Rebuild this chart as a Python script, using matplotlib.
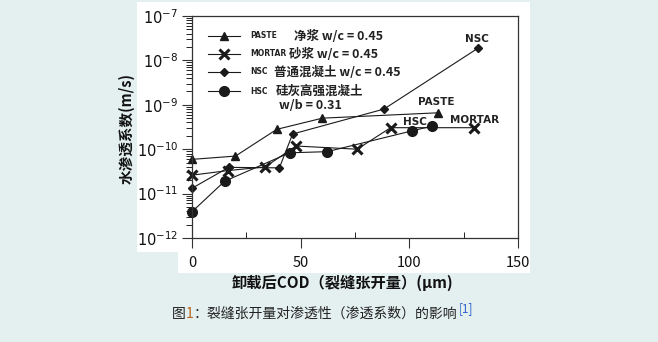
import matplotlib.pyplot as plt
import matplotlib.patches as mpatches
import numpy as np

plt.rcParams['font.family'] = ['Noto Sans CJK SC', 'DejaVu Sans']
plt.rcParams['mathtext.fontset'] = 'dejavusans'

# data (COD in um, permeability in m/s)
paste_x = [0, 20, 39, 60, 113]
paste_y = [5.9e-11, 7.0e-11, 2.8e-10, 5.0e-10, 6.6e-10]
mortar_x = [0, 16.5, 33.7, 47.8, 76, 91.4, 129.8]
mortar_y = [2.6e-11, 3.3e-11, 4.0e-11, 1.18e-10, 1.0e-10, 3.05e-10, 3.05e-10]
nsc_x = [0, 16.9, 40.2, 46.3, 88.3, 131.7]
nsc_y = [1.32e-11, 3.9e-11, 3.8e-11, 2.2e-10, 8.0e-10, 1.9e-8]
hsc_x = [0, 15, 44.9, 62.2, 101.4, 110.3]
hsc_y = [3.9e-12, 1.9e-11, 8.3e-11, 8.8e-11, 2.6e-10, 3.3e-10]

W, H = 658, 342
bg = '#e4f0ef'

fig = plt.figure(figsize=(W / 100, H / 100), dpi=100)
fig.patch.set_facecolor(bg)


def fx(px):
    return px / W


def fy(py):
    return 1 - py / H


# white scanned-image panel
poly = [(137, 2), (530, 2), (530, 273), (178, 273), (178, 252), (137, 252)]
fig.patches.append(mpatches.Polygon([(fx(a), fy(b)) for a, b in poly], closed=True,
                                    transform=fig.transFigure, facecolor='white',
                                    edgecolor='none', zorder=0))

ax = fig.add_axes([fx(192), fy(238), fx(518) - fx(192), fy(16) - fy(238)])
ax.set_zorder(2)
ax.set_facecolor('white')
ax.set_yscale('log')
ax.set_xlim(0, 150)
ax.set_ylim(1e-12, 1e-7)

lk = dict(color='#1a1a1a', lw=0.8, markersize=6, clip_on=False)
ax.plot(paste_x, paste_y, marker='^', **lk)
ax.plot(mortar_x, mortar_y, marker='x', markeredgewidth=2.2, **dict(lk, markersize=6.5))
ax.plot(nsc_x, nsc_y, marker='D', **dict(lk, markersize=4.5))
ax.plot(hsc_x, hsc_y, marker='o', **dict(lk, markersize=7))

for s in ax.spines.values():
    s.set_color('#333333')
    s.set_linewidth(0.9)

ax.set_xticks([0, 50, 100, 150])
ax.set_xticks([25, 75, 125], minor=True)
ax.tick_params(axis='x', which='major', direction='out', length=7, width=0.8,
               labelsize=10.5, pad=6, colors='#333333', labelcolor='#111111')
ax.tick_params(axis='x', which='minor', direction='in', length=4, width=0.6)
ax.set_yticks([1e-12, 1e-11, 1e-10, 1e-9, 1e-8, 1e-7])
ax.set_yticklabels([r'$10^{-12}$', r'$10^{-11}$', r'$10^{-10}$', r'$10^{-9}$',
                    r'$10^{-8}$', r'$10^{-7}$'])
ax.tick_params(axis='y', which='major', direction='out', length=7, width=0.8,
               labelsize=10.5, pad=3, colors='#333333', labelcolor='#111111')
ax.tick_params(axis='y', which='minor', direction='out', length=4, width=0.6)

# legend drawn by hand like the scanned figure
rows = [('^', 36, 'PASTE', 294, '净浆 w/c = 0.45', 6),
        ('x', 54, 'MORTAR', 289, '砂浆 w/c = 0.45', 6.5),
        ('D', 72, 'NSC', 274, '普通混凝土 w/c = 0.45', 4.5),
        ('o', 91, 'HSC', 276, '硅灰高强混凝土', 7)]
for m, py, tag, tx, txt, ms in rows:
    fig.add_artist(plt.Line2D([fx(208), fx(240)], [fy(py), fy(py)], color='#1a1a1a',
                              lw=0.8, transform=fig.transFigure, zorder=5))
    fig.add_artist(plt.Line2D([fx(224)], [fy(py)], marker=m, color='#1a1a1a',
                              markersize=ms, markeredgewidth=2.2 if m == 'x' else 1,
                              transform=fig.transFigure, zorder=5))
    fig.text(fx(250), fy(py), tag, fontsize=5.5, fontweight='bold', va='center',
             family='DejaVu Sans', color='#222222', zorder=5)
    fig.text(fx(tx), fy(py), txt, fontsize=9, fontweight='bold', va='center',
             color='#222222', zorder=5)
fig.text(fx(279), fy(106), 'w/b = 0.31', fontsize=9, fontweight='bold',
         va='center', color='#222222', zorder=5)

# curve labels
for lab, px, py in [('NSC', 477, 39), ('PASTE', 436, 102), ('HSC', 415, 122),
                    ('MORTAR', 475, 120)]:
    fig.text(fx(px), fy(py), lab, fontsize=7.5, fontweight='bold', ha='center',
             va='center', family='DejaVu Sans', color='#222222', zorder=5)

fig.text(fx(127), fy(128), '水渗透系数(m/s)', rotation=90, fontsize=10.5,
         fontweight='bold', ha='center', va='center', color='#111111')
fig.text(fx(342), fy(283), '卸载后COD（裂缝张开量）(μm)', fontsize=11,
         fontweight='bold', ha='center', va='center', color='#111111')

# caption
cy = fy(314)
t1 = fig.text(fx(172), cy, '图', fontsize=10, va='center', color='#222222')
fig.canvas.draw()
r = fig.canvas.get_renderer()
bb = t1.get_window_extent(r)
t2 = fig.text(bb.x1 / W, cy, '1', fontsize=10, va='center', color='#b5651d')
bb = t2.get_window_extent(r)
t3 = fig.text(bb.x1 / W, cy, '：裂缝张开量对渗透性（渗透系数）的影响', fontsize=10,
              va='center', color='#222222')
bb = t3.get_window_extent(r)
fig.text(bb.x1 / W + 0.002, fy(309), '[1]', fontsize=8.5, va='center', color='#3366cc')

fig.savefig('out.png', dpi=100, facecolor=bg)
